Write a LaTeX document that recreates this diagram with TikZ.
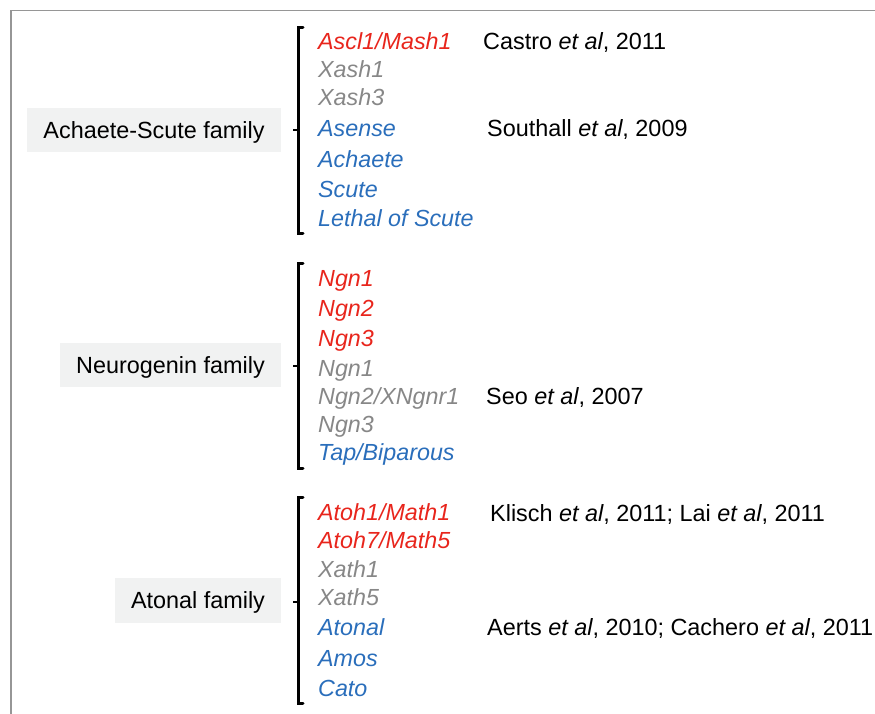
\documentclass[tikz,border=0pt]{standalone}
\usepackage{fontspec}
\setmainfont{Liberation Sans}
\definecolor{gred}{RGB}{232,37,28}
\definecolor{ggray}{RGB}{135,135,135}
\definecolor{gblue}{RGB}{42,110,187}
\definecolor{boxfill}{RGB}{241,242,242}
\definecolor{frame}{RGB}{150,150,150}
\begin{document}
\begin{tikzpicture}[x=1pt,y=-1pt,
  gene/.style={anchor=base west,inner sep=0pt,font=\fontsize{23.3}{26}\selectfont\itshape},
  red/.style={gene,text=gred},
  gry/.style={gene,text=ggray},
  blu/.style={gene,text=gblue},
  ref/.style={anchor=base west,inner sep=0pt,font=\fontsize{23.4}{26}\selectfont},
  fam/.style={fill=boxfill,inner sep=0pt,text depth=0pt,font=\fontsize{23.4}{26}\selectfont},
  brk/.style={line width=3pt,line cap=round,line join=miter}]
\useasboundingbox (0,0) rectangle (875,714);
\draw[frame,line width=1.5pt] (11,714) coordinate (fl) -- (11,10.5) coordinate (fc) -- (875,10.5) coordinate (fr);

% Achaete-Scute
\node[fam,minimum width=254pt,minimum height=44pt] (f1) at (154,130) {Achaete-Scute family};
\draw[brk] (303,28) -- (298.5,28) -- (298.5,233) -- (303,233);
\coordinate (b1) at (298.5,130);
\draw[line width=2.5pt] (b1) -- ++(-6,0) coordinate (t1);
\node[red] (g11) at (318,49.5) {Ascl1/Mash1};
\node[gry] (g12) at (318,77.5) {Xash1};
\node[gry] (g13) at (318,105.5) {Xash3};
\node[blu] (g14) at (318,136.5) {Asense};
\node[blu] (g15) at (318,167.5) {Achaete};
\node[blu] (g16) at (318,198) {Scute};
\node[blu] (g17) at (318,226.5) {Lethal of Scute};
\node[ref] (r11) at (483,49.5) {Castro \textit{et al}, 2011};
\node[ref] (r12) at (487,136.5) {Southall \textit{et al}, 2009};

% Neurogenin
\node[fam,minimum width=221pt,minimum height=44pt] (f2) at (170.5,365) {Neurogenin family};
\draw[brk] (303,263) -- (298.5,263) -- (298.5,468) -- (303,468);
\coordinate (b2) at (298.5,366);
\draw[line width=2.5pt] (b2) -- ++(-6,0) coordinate (t2);
\node[red] (g21) at (318,286.5) {Ngn1};
\node[red] (g22) at (318,316.5) {Ngn2};
\node[red] (g23) at (318,346.5) {Ngn3};
\node[gry] (g24) at (318,376.5) {Ngn1};
\node[gry] (g25) at (318,404.5) {Ngn2/XNgnr1};
\node[gry] (g26) at (318,432.5) {Ngn3};
\node[blu] (g27) at (318,460.5) {Tap/Biparous};
\node[ref] (r21) at (486,404.5) {Seo \textit{et al}, 2007};

% Atonal
\node[fam,minimum width=166pt,minimum height=45pt] (f3) at (198,600.5) {Atonal family};
\draw[brk] (303,497) -- (298.5,497) -- (298.5,703) -- (303,703);
\coordinate (b3) at (298.5,602);
\draw[line width=2.5pt] (b3) -- ++(-6,0) coordinate (t3);
\node[red] (g31) at (318,520.5) {Atoh1/Math1};
\node[red] (g32) at (318,548.5) {Atoh7/Math5};
\node[gry] (g33) at (318,577.5) {Xath1};
\node[gry] (g34) at (318,605.5) {Xath5};
\node[blu] (g35) at (318,635.5) {Atonal};
\node[blu] (g36) at (318,666.5) {Amos};
\node[blu] (g37) at (318,696.5) {Cato};
\node[ref] (r31) at (490,521.5) {Klisch \textit{et al}, 2011; Lai \textit{et al}, 2011};
\node[ref] (r32) at (487,635.5) {Aerts \textit{et al}, 2010; Cachero \textit{et al}, 2011};
\end{tikzpicture}
\end{document}
